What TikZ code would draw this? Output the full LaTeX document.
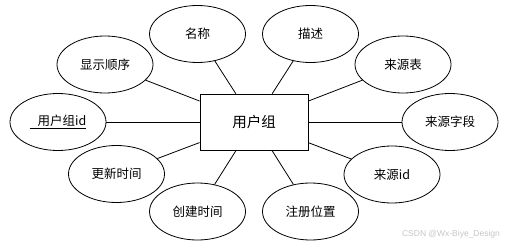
\documentclass[tikz,border=0pt]{standalone}
\usepackage{fontspec}
\setmainfont{Noto Sans CJK SC}
\newfontfamily\markfont{Liberation Sans}
\usetikzlibrary{shapes.geometric}
\tikzset{attr/.style={draw, ellipse, line width=0.8pt, minimum width=96pt, minimum height=57pt, inner sep=0pt, font=\fontsize{12.5}{15}\selectfont}}
\tikzset{entity/.style={draw, rectangle, line width=0.8pt, minimum width=108pt, minimum height=56pt, inner sep=0pt, font=\fontsize{14.5}{17}\selectfont}}

\begin{document}
\begin{tikzpicture}[x=1pt, y=-1pt, line width=0.8pt]
            \useasboundingbox (0,0) rectangle (510,246);
            \node[entity] (usergroup) at (254,122) {用户组};

            \node[attr] (name) at (197.5,34) {名称};
            \node[attr] (desc) at (310.5,34) {描述};
            \node[attr] (order) at (105,64.5) {显示顺序};
            \node[attr] (srctable) at (403,64.5) {来源表};
            \node[attr] (groupid) at (58,122) {\underline{\hspace{8pt}用户组id}};
            \node[attr] (srcfield) at (450,122) {来源字段};
            \node[attr] (updated) at (116.5,174) {更新时间};
            \node[attr] (srcid) at (392,174.5) {来源id};
            \node[attr] (created) at (197.5,211.5) {创建时间};
            \node[attr] (regpos) at (310.5,211.5) {注册位置};

            \draw (usergroup) -- (name); 
            \draw (usergroup) -- (desc); 
            \draw (usergroup) -- (order); 
            \draw (usergroup) -- (srctable); 
            \draw (usergroup) -- (groupid); 
            \draw (usergroup) -- (srcfield); 
            \draw (usergroup) -- (updated); 
            \draw (usergroup) -- (srcid); 
            \draw (usergroup) -- (created); 
            \draw (usergroup) -- (regpos); 

            \node[text=gray!45, font=\markfont\fontsize{8.5}{10}\selectfont] (mark) at (451,234) {CSDN @Wx-Biye\_Design};
        \end{tikzpicture}
\end{document}
